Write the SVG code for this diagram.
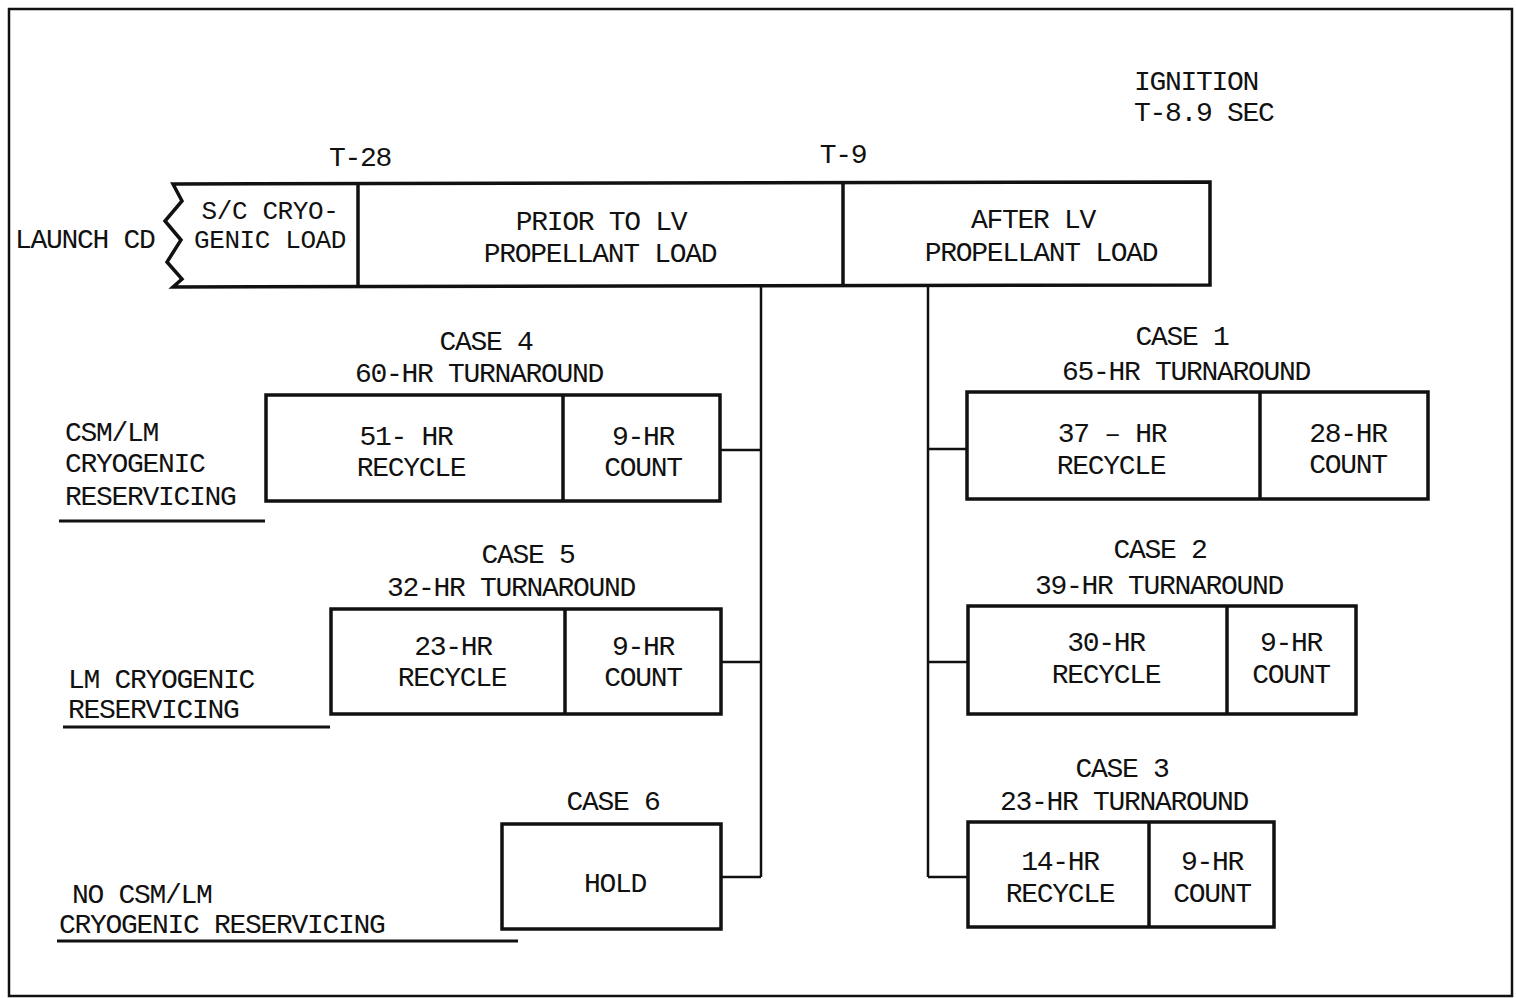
<svg xmlns="http://www.w3.org/2000/svg" width="1516" height="998" viewBox="0 0 1516 998">
<style>
text{font-family:"Liberation Mono","DejaVu Sans Mono",monospace;font-size:28px;letter-spacing:-1.3px;fill:#111}
.m{text-anchor:middle}
.s{font-size:26px;letter-spacing:-0.4px}
.box{fill:#fff;stroke:#111;stroke-width:3.5}
.div{stroke:#111;stroke-width:3.5}
.conn{fill:none;stroke:#111;stroke-width:2.5}
.ul{stroke:#111;stroke-width:3}
</style>
<rect x="0" y="0" width="1516" height="998" fill="#fff"/>
<rect x="9" y="9" width="1503" height="987" fill="none" stroke="#111" stroke-width="2.5"/>

<g id="ignition">
<text x="1134" y="90">IGNITION</text>
<text x="1134" y="121">T-8.9 SEC</text>
</g>
<g id="marks">
<text x="360" y="166" class="m">T-28</text>
<text x="843" y="163" class="m">T-9</text>
<text x="15" y="248">LAUNCH CD</text>
</g>

<g id="timeline">
<path class="box" d="M173,184 L1210,182 L1210,285 L173,287 L182,279 L167,262 L181,240 L165,221 L182,201 Z"/>
<line class="div" x1="358" y1="184" x2="358" y2="287"/>
<line class="div" x1="843" y1="183" x2="843" y2="286"/>
<text x="270" y="219" class="m s">S/C CRYO-</text>
<text x="270" y="248" class="m s">GENIC LOAD</text>
<text x="601" y="230" class="m">PRIOR TO LV</text>
<text x="600" y="262" class="m">PROPELLANT LOAD</text>
<text x="1033" y="228" class="m">AFTER LV</text>
<text x="1041" y="261" class="m">PROPELLANT LOAD</text>
</g>

<g id="connectors">
<path class="conn" d="M761,286 V877 M721,450 H761 M722,662 H761 M721,877 H761"/>
<path class="conn" d="M928,286 V877 M928,449 H967 M928,662 H967 M928,877 H968"/>
</g>

<g id="case4">
<text x="486" y="350" class="m">CASE 4</text>
<text x="479" y="382" class="m">60-HR TURNAROUND</text>
<rect class="box" x="266" y="395" width="454" height="106"/>
<line class="div" x1="563" y1="395" x2="563" y2="501"/>
<text x="406" y="445" class="m">51- HR</text>
<text x="411" y="476" class="m">RECYCLE</text>
<text x="643" y="445" class="m">9-HR</text>
<text x="643" y="476" class="m">COUNT</text>
</g>

<g id="case5">
<text x="528" y="563" class="m">CASE 5</text>
<text x="511" y="596" class="m">32-HR TURNAROUND</text>
<rect class="box" x="331" y="609" width="390" height="105"/>
<line class="div" x1="565" y1="609" x2="565" y2="714"/>
<text x="453" y="655" class="m">23-HR</text>
<text x="452" y="686" class="m">RECYCLE</text>
<text x="643" y="655" class="m">9-HR</text>
<text x="643" y="686" class="m">COUNT</text>
</g>

<g id="case6">
<text x="613" y="810" class="m">CASE 6</text>
<rect class="box" x="502" y="824" width="219" height="105"/>
<text x="615" y="892" class="m">HOLD</text>
</g>

<g id="case1">
<text x="1182" y="345" class="m">CASE 1</text>
<text x="1186" y="380" class="m">65-HR TURNAROUND</text>
<rect class="box" x="967" y="392" width="461" height="107"/>
<line class="div" x1="1260" y1="392" x2="1260" y2="499"/>
<text x="1112" y="442" class="m">37 – HR</text>
<text x="1111" y="474" class="m">RECYCLE</text>
<text x="1348" y="442" class="m">28-HR</text>
<text x="1348" y="473" class="m">COUNT</text>
</g>

<g id="case2">
<text x="1160" y="558" class="m">CASE 2</text>
<text x="1159" y="594" class="m">39-HR TURNAROUND</text>
<rect class="box" x="968" y="606" width="388" height="108"/>
<line class="div" x1="1227" y1="606" x2="1227" y2="714"/>
<text x="1106" y="651" class="m">30-HR</text>
<text x="1106" y="683" class="m">RECYCLE</text>
<text x="1291" y="651" class="m">9-HR</text>
<text x="1291" y="683" class="m">COUNT</text>
</g>

<g id="case3">
<text x="1122" y="777" class="m">CASE 3</text>
<text x="1124" y="810" class="m">23-HR TURNAROUND</text>
<rect class="box" x="968" y="822" width="306" height="105"/>
<line class="div" x1="1149" y1="822" x2="1149" y2="927"/>
<text x="1060" y="870" class="m">14-HR</text>
<text x="1060" y="902" class="m">RECYCLE</text>
<text x="1212" y="870" class="m">9-HR</text>
<text x="1212" y="902" class="m">COUNT</text>
</g>

<g id="label-csm-lm">
<text x="65" y="441">CSM/LM</text>
<text x="65" y="472">CRYOGENIC</text>
<text x="65" y="505">RESERVICING</text>
<line class="ul" x1="59" y1="521" x2="265" y2="521"/>
</g>
<g id="label-lm">
<text x="68" y="688">LM CRYOGENIC</text>
<text x="68" y="718">RESERVICING</text>
<line class="ul" x1="63" y1="727" x2="330" y2="727"/>
</g>
<g id="label-none">
<text x="72" y="903">NO CSM/LM</text>
<text x="59" y="933">CRYOGENIC RESERVICING</text>
<line class="ul" x1="57" y1="941" x2="518" y2="941"/>
</g>
</svg>
